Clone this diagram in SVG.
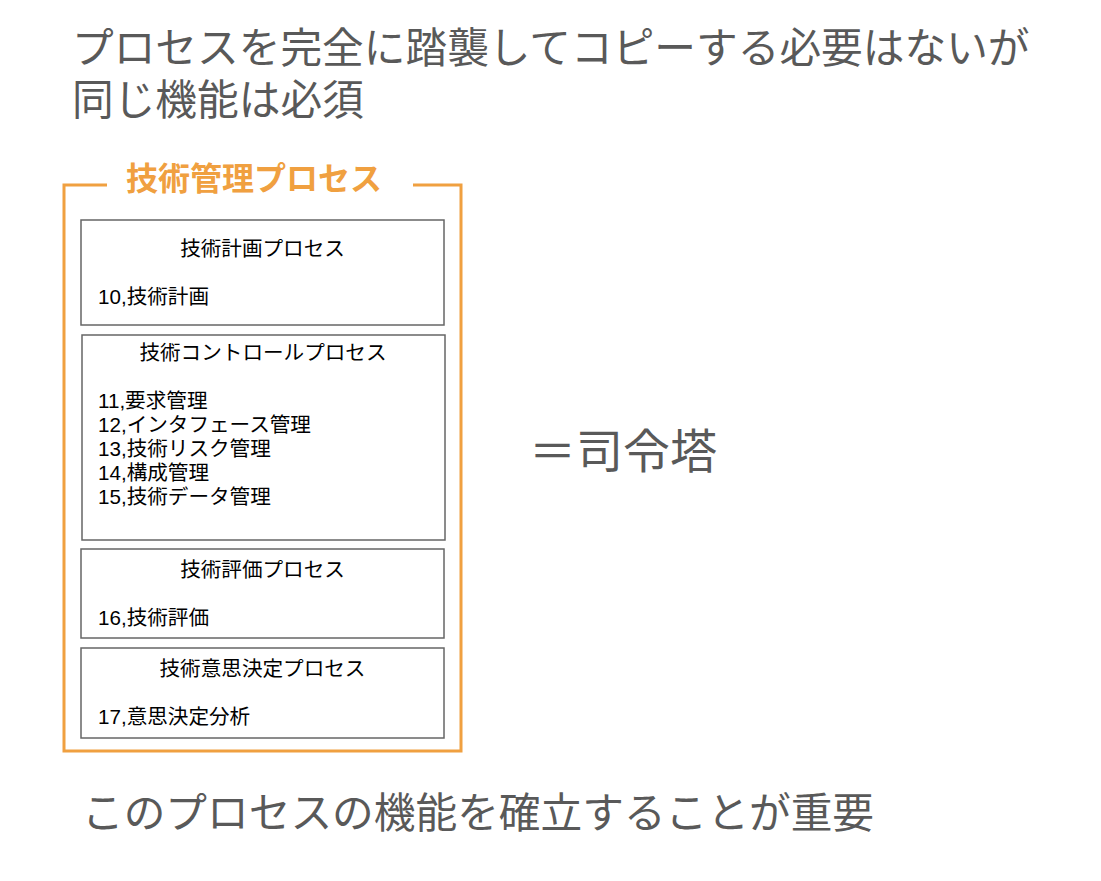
<svg xmlns="http://www.w3.org/2000/svg" width="1101" height="881" viewBox="0 0 1101 881">
<style>
.big{font-family:"Noto Sans CJK JP","Noto Sans",sans-serif;fill:#595959;font-size:41.7px}
.box{fill:#fff;stroke:#666;stroke-width:1.5}
.t{font-family:"Liberation Sans","Noto Sans CJK JP",sans-serif;font-size:20.6px;fill:#000}
.c{text-anchor:middle}
</style>
<rect width="1101" height="881" fill="#fff"/>
<text class="big" x="72" y="63">プロセスを完全に踏襲してコピーする必要はないが</text>
<text class="big" x="72" y="115">同じ機能は必須</text>
<g id="frame">
<path d="M107 185 H64 V751 H461 V185 H413" fill="none" stroke="#F0A040" stroke-width="3"/>
<text x="254" y="190" text-anchor="middle" font-family="Noto Sans CJK JP,sans-serif" font-weight="bold" font-size="32" fill="#F0A040">技術管理プロセス</text>
</g>
<g id="n1">
<rect class="box" x="81" y="220" width="363" height="105"/>
<text class="t c" x="262.5" y="256">技術計画プロセス</text>
<text class="t" x="98" y="304">10,技術計画</text>
</g>
<g id="n2">
<rect class="box" x="82" y="335" width="363" height="205"/>
<text class="t c" x="263" y="360">技術コントロールプロセス</text>
<text class="t" x="98" y="408">11,要求管理</text>
<text class="t" x="98" y="432">12,インタフェース管理</text>
<text class="t" x="98" y="456">13,技術リスク管理</text>
<text class="t" x="98" y="480">14,構成管理</text>
<text class="t" x="98" y="504">15,技術データ管理</text>
</g>
<g id="n3">
<rect class="box" x="81" y="549" width="363" height="89"/>
<text class="t c" x="262.5" y="577">技術評価プロセス</text>
<text class="t" x="98" y="625">16,技術評価</text>
</g>
<g id="n4">
<rect class="box" x="81" y="648" width="363" height="90"/>
<text class="t c" x="262.5" y="676">技術意思決定プロセス</text>
<text class="t" x="98" y="724">17,意思決定分析</text>
</g>
<g id="connectors"></g>
<text class="big" x="529" y="468" style="font-size:47px">＝司令塔</text>
<text class="big" x="82" y="828">このプロセスの機能を確立することが重要</text>
</svg>
